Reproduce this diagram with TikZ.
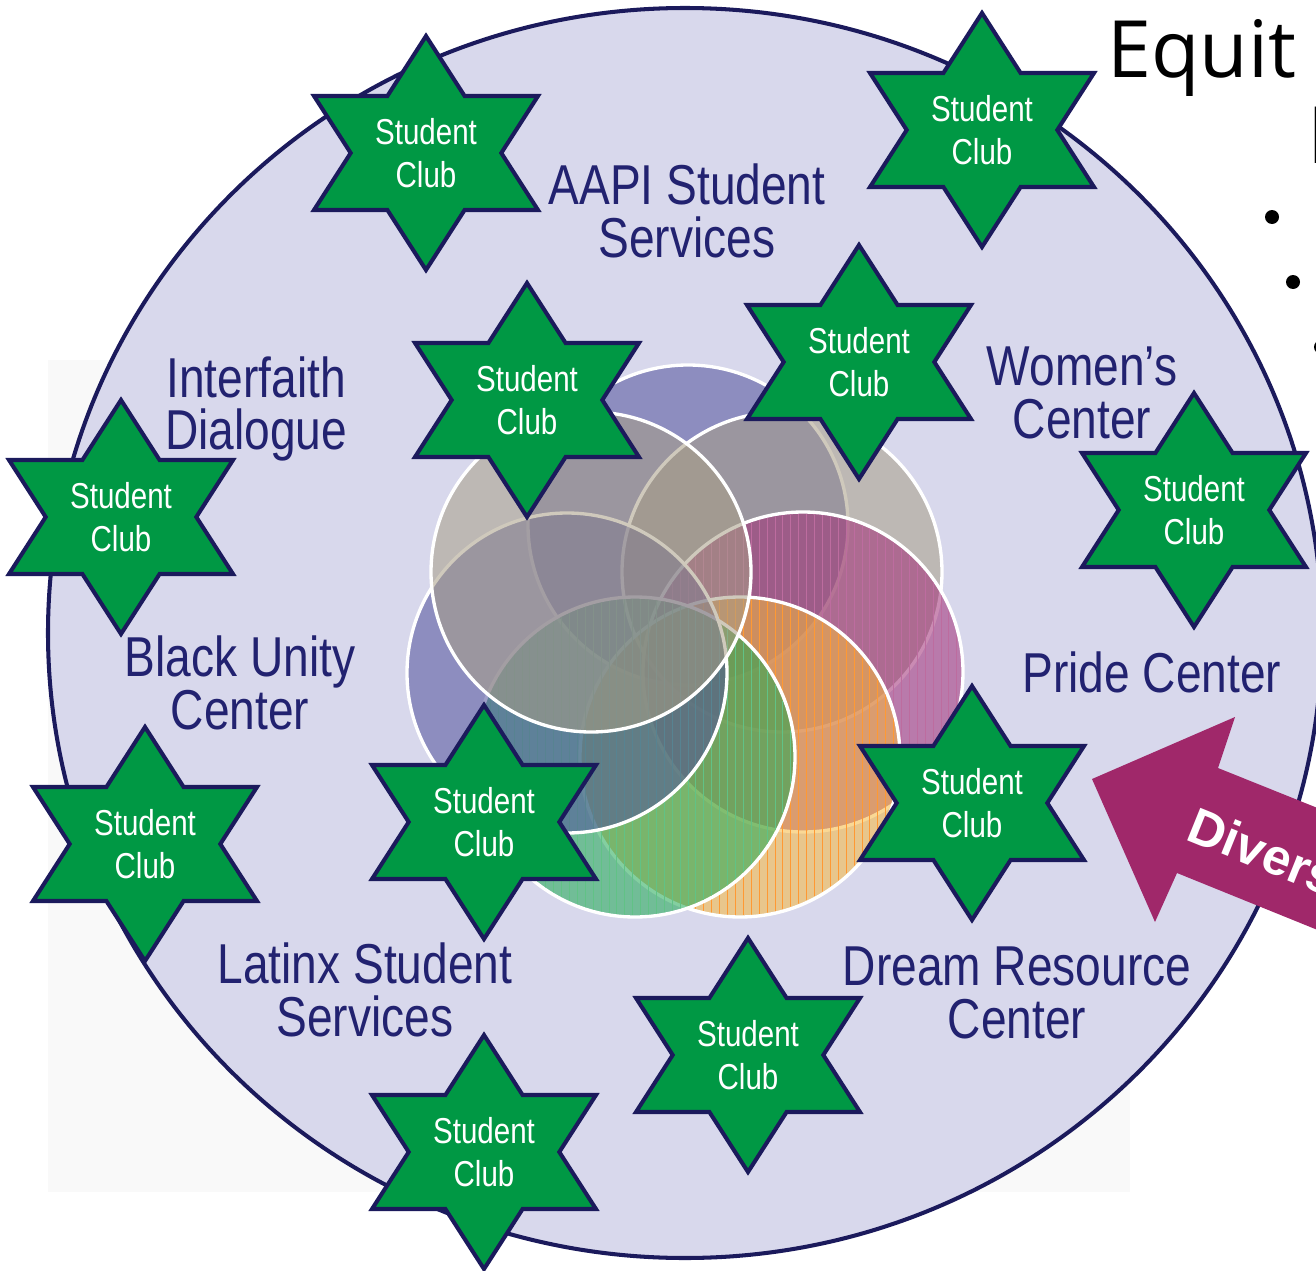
\documentclass[tikz,border=0pt]{standalone}
\usepackage{fontspec}
\usetikzlibrary{patterns.meta}
\setmainfont{Liberation Sans}
\newfontfamily\narrowfont[FakeStretch=0.82]{Liberation Sans}
\newfontfamily\titlefont{Open Sans}
\definecolor{navy}{RGB}{27,26,92}
\definecolor{labelblue}{RGB}{34,34,112}
\definecolor{clubgreen}{RGB}{0,152,68}
\definecolor{ringfill}{RGB}{216,216,236}
\definecolor{arrowplum}{RGB}{160,40,106}
\definecolor{vpurple}{RGB}{80,80,155}
\definecolor{vgrey}{RGB}{168,158,134}
\definecolor{vmagenta}{RGB}{160,45,118}
\definecolor{vyellow}{RGB}{246,184,62}
\definecolor{vteal}{RGB}{30,168,82}
\tikzset{
  venn/.style={draw=white, line width=1.9pt, fill=#1, fill opacity=0.55},
  stripes/.style={pattern={Lines[angle=90, distance=4.5pt, line width=0.3pt]},
    pattern color=#1},
  centrelabel/.style={text=labelblue, align=center, inner sep=0pt,
    font=\narrowfont\fontsize{32}{30}\selectfont},
  clubtext/.style={text=white, align=center, inner sep=0pt,
    font=\narrowfont\fontsize{20.5}{24.4}\selectfont},
  starline/.style={draw=navy, fill=clubgreen, line width=2.3pt, line join=miter},
  bulletdot/.style={circle, fill=black, inner sep=0pt, minimum size=0.28cm},
  clubstar/.pic={
    \path[starline] (0,-117) -- (38.6,-57) -- (112,-57) -- (75.3,0) -- (112,57)
      -- (38.6,57) -- (0,117) -- (-38.6,57) -- (-112,57) -- (-75.3,0)
      -- (-112,-57) -- (-38.6,-57) -- cycle;
    \node[clubtext] (-txt) {Student\\Club};
  }
}

\begin{document}
\begin{tikzpicture}[x=0.02cm, y=-0.02cm]
  \useasboundingbox (0,0) rectangle (1316,1271);
  % faint logo behind the ring
  \fill[gray!5] (48,360) rectangle (1130,1192);
  \draw[navy, line width=2.3pt, fill=ringfill] (685,633) ellipse[x radius=637, y radius=625];

  % overlapping circles in the middle, the warm ones striped
  \foreach \cx/\cy/\col/\lin/\sop in {688/525/vpurple/vpurple/0, 782/572/vgrey/vgrey/0,
      803/672/vmagenta/vmagenta!70!white/1, 740/757/vyellow/orange!80!white/1,
      635/757/vteal/vteal!70!white/1, 567/673/vpurple/vpurple/0, 591/572/vgrey/vgrey/0} {
    \draw[venn=\col] (\cx,\cy) circle[radius=160];
    \ifdim\sop pt>0pt
      \fill[stripes=\lin] (\cx,\cy) circle[radius=158];
    \fi
  }

  \node[centrelabel] (aapi) at (687,211) {AAPI Student\\Services};
  \node[centrelabel] (faith) at (256,409) {Interfaith\\Dialogue};
  \node[centrelabel] (women) at (1082,393) {Women’s\\Center};
  \node[centrelabel] (black) at (240,683) {Black Unity\\Center};
  \node[centrelabel] (pride) at (1152,672) {Pride Center};
  \node[centrelabel] (latinx) at (365,990) {Latinx Student\\Services};
  \node[centrelabel] (dream) at (1017,993) {Dream Resource\\Center};

  \foreach \n/\sx/\sy in {a/426/153, b/982/130, c/527/400, d/859/362,
      e/121/517, f/1194/510, g/972/803, h/145/844, i/484/822,
      j/748/1055, k/484/1152}
    \pic (club\n) at (\sx,\sy) {clubstar};

  % arrow coming in from the right
  \fill[arrowplum] (1092,779) -- (1235,717) -- (1218,768) -- (1330,813)
    -- (1330,935) -- (1177,873) -- (1155,922) -- cycle;
  \node[rotate=-22, anchor=west, text=white, inner sep=0pt,
    font=\bfseries\fontsize{29}{30}\selectfont] (divers) at (1191,822) {Divers};

  \node[anchor=base west, inner sep=0pt, font=\titlefont\fontsize{45}{50}\selectfont]
    (title) at (1107,77) {Equit};
  \node[anchor=base west, inner sep=0pt, font=\titlefont\fontsize{45}{50}\selectfont]
    (subtitle) at (1307,163) {I};
  \foreach \bx/\by [count=\k] in {1272/217, 1293/282, 1321/347}
    \node[bulletdot] (dot\k) at (\bx,\by) {};
\end{tikzpicture}
\end{document}
